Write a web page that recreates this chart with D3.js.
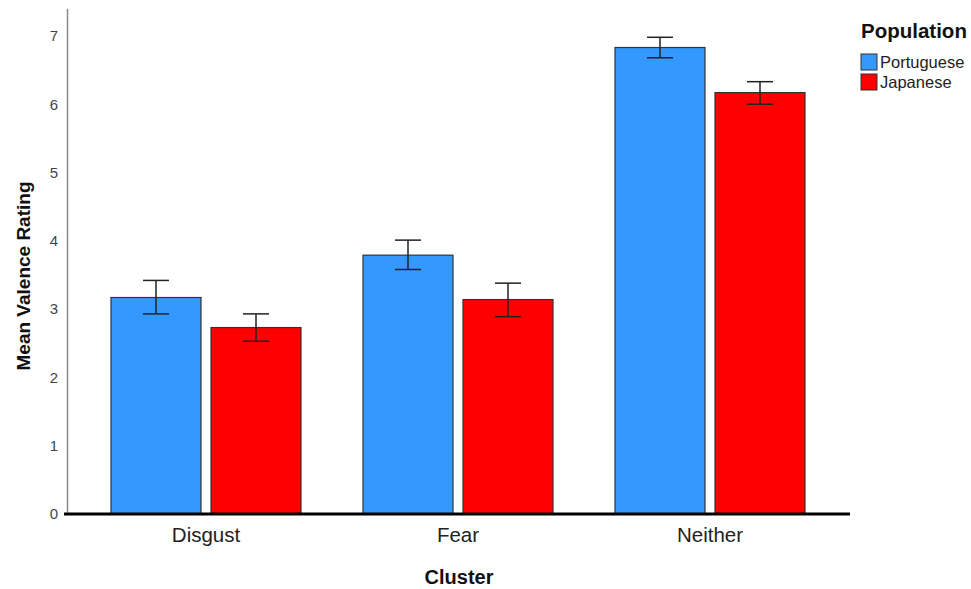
<!DOCTYPE html>
<html>
<head>
<meta charset="utf-8">
<script src="https://cdn.jsdelivr.net/npm/d3@7"></script>
<style>
  body { margin: 0; background: #fff; }
  text { font-family: "Liberation Sans", Arial, sans-serif; }
</style>
</head>
<body>
<div id="chart"></div>
<script>
const clusters = ['Disgust', 'Fear', 'Neither'];
const populations = ['Portuguese', 'Japanese'];
const means = {
  Portuguese: [3.17, 3.79, 6.83],
  Japanese: [2.73, 3.14, 6.17]
};
const errLow = {
  Portuguese: [2.93, 3.58, 6.68],
  Japanese: [2.53, 2.89, 6.00]
};
const errHigh = {
  Portuguese: [3.42, 4.01, 6.98],
  Japanese: [2.93, 3.38, 6.33]
};
const yTicks = [0, 1, 2, 3, 4, 5, 6, 7];
const colors = ['#3399ff', '#ff0000'];

const width = 971, height = 589;

const svg = d3.select('#chart')
  .append('svg')
  .attr('width', width)
  .attr('height', height);

const x0 = d3.scaleBand()
  .domain(clusters)
  .range([80, 836])
  .paddingInner(0.246)
  .paddingOuter(0.123);

const x1 = d3.scaleBand()
  .domain(populations)
  .range([0, x0.bandwidth()])
  .paddingInner(0.1);

const y = d3.scaleLinear()
  .domain([0, 7.4])
  .range([514, 8.6]);

const color = d3.scaleOrdinal().domain(populations).range(colors);

// y axis: gray line with labels, no ticks
const yAxis = svg.append('g')
  .attr('transform', 'translate(67,0)')
  .call(d3.axisLeft(y).tickValues(yTicks).tickSize(0).tickPadding(9).tickFormat(d3.format('d')));
yAxis.select('.domain').attr('stroke', '#8a8a8a').attr('stroke-width', 1.5);
yAxis.selectAll('text')
  .style('font-size', '15px')
  .attr('fill', '#444');

// bars
const rows = [];
clusters.forEach((c, i) => {
  populations.forEach(p => {
    rows.push({ cluster: c, pop: p, mean: means[p][i], lo: errLow[p][i], hi: errHigh[p][i] });
  });
});

const g = svg.append('g');

g.selectAll('rect')
  .data(rows)
  .enter().append('rect')
  .attr('x', d => x0(d.cluster) + x1(d.pop))
  .attr('y', d => y(d.mean))
  .attr('width', x1.bandwidth())
  .attr('height', d => y(0) - y(d.mean))
  .attr('fill', d => color(d.pop))
  .attr('stroke', '#333')
  .attr('stroke-width', 1.2);

// error bars
const cx = d => x0(d.cluster) + x1(d.pop) + x1.bandwidth() / 2;
const eb = g.selectAll('g.err')
  .data(rows)
  .enter().append('g')
  .attr('class', 'err')
  .attr('stroke', '#222')
  .attr('stroke-width', 1.5);
eb.append('line')
  .attr('x1', cx).attr('x2', cx)
  .attr('y1', d => y(d.hi)).attr('y2', d => y(d.lo));
eb.append('line')
  .attr('x1', d => cx(d) - 13).attr('x2', d => cx(d) + 13)
  .attr('y1', d => y(d.hi)).attr('y2', d => y(d.hi));
eb.append('line')
  .attr('x1', d => cx(d) - 13).attr('x2', d => cx(d) + 13)
  .attr('y1', d => y(d.lo)).attr('y2', d => y(d.lo));

// x axis: thick black baseline
const xAxis = svg.append('g')
  .attr('transform', 'translate(0,' + y(0) + ')')
  .call(d3.axisBottom(x0).tickSize(0).tickPadding(13));
xAxis.select('.domain')
  .attr('d', 'M64,0H850')
  .attr('stroke', '#000')
  .attr('stroke-width', 3);
xAxis.selectAll('text')
  .style('font-size', '20.5px')
  .attr('fill', '#222');

// axis titles
svg.append('text')
  .attr('transform', 'translate(30,276) rotate(-90)')
  .attr('text-anchor', 'middle')
  .style('font-size', '19px')
  .style('font-weight', 'bold')
  .attr('fill', '#111')
  .text('Mean Valence Rating');

svg.append('text')
  .attr('x', 459)
  .attr('y', 584)
  .attr('text-anchor', 'middle')
  .style('font-size', '20px')
  .style('font-weight', 'bold')
  .attr('fill', '#111')
  .text('Cluster');

// legend
const legend = svg.append('g').attr('transform', 'translate(861,0)');
legend.append('text')
  .attr('x', 0)
  .attr('y', 38)
  .style('font-size', '20.5px')
  .style('font-weight', 'bold')
  .attr('fill', '#111')
  .text('Population');

const item = legend.selectAll('g.item')
  .data(populations)
  .enter().append('g')
  .attr('class', 'item')
  .attr('transform', (d, i) => 'translate(0,' + (54 + i * 20) + ')');
item.append('rect')
  .attr('width', 16)
  .attr('height', 16)
  .attr('fill', d => color(d))
  .attr('stroke', '#333')
  .attr('stroke-width', 1);
item.append('text')
  .attr('x', 19)
  .attr('y', 13.5)
  .style('font-size', '16.5px')
  .attr('fill', '#222')
  .text(d => d);
</script>
</body>
</html>
